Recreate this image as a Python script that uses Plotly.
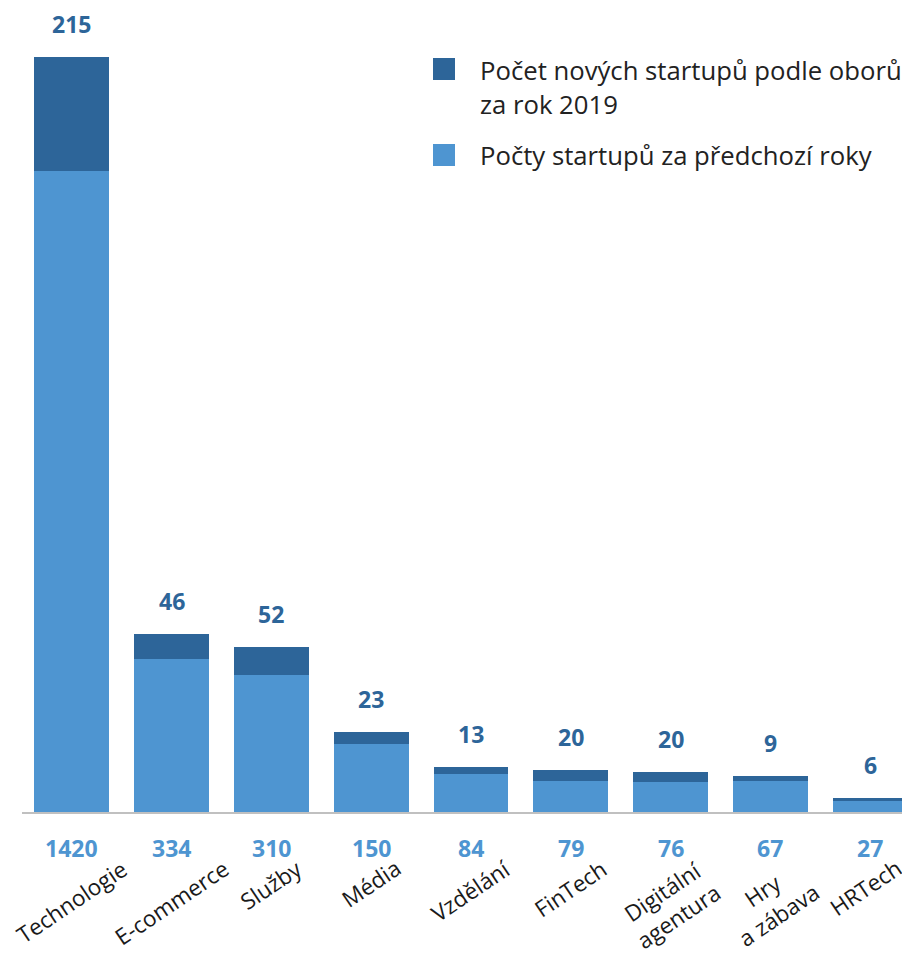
import plotly.graph_objects as go

categories = ["Technologie", "E-commerce", "Služby", "Média", "Vzdělání", "FinTech",
              "Digitální<br>agentura", "Hry<br>a zábava", "HRTech"]
totals = [1420, 334, 310, 150, 84, 79, 76, 67, 27]
new_2019 = [215, 46, 52, 23, 13, 20, 20, 9, 6]
legend_new = "Počet nových startupů podle oborů"
legend_new_2 = "za rok 2019"
legend_prev = "Počty startupů za předchozí roky"

prev_years = [t - n for t, n in zip(totals, new_2019)]

DARK = "#2d6599"
LIGHT = "#4e95d1"
FONT = "Open Sans"

OFF = 8  # page body margin
W, H = 910 - OFF, 957 - OFF
ML, MR, MT, MB = 22 - OFF, 0, 0, 145
PW, PH = W - ML - MR, H - MT - MB

x = list(range(len(categories)))
fig = go.Figure()
fig.add_bar(x=x, y=prev_years, marker_color=LIGHT, width=0.75, name=legend_prev,
            marker_line_width=0)
fig.add_bar(x=x, y=new_2019, marker_color=DARK, width=0.75, name=legend_new,
            marker_line_width=0)

ann = []
for i, (t, n) in enumerate(zip(totals, new_2019)):
    ann.append(dict(x=i, y=t, xref="x", yref="y", text=f"<b>{n}</b>", showarrow=False,
                    yanchor="middle", yshift=33, font=dict(family=FONT, size=23, color=DARK)))
    ann.append(dict(x=i, y=0, xref="x", yref="paper", text=f"<b>{t}</b>", showarrow=False,
                    yanchor="middle", yshift=-36, font=dict(family=FONT, size=23, color=LIGHT)))
    ann.append(dict(x=i, y=0, xref="x", yref="paper", text=categories[i], showarrow=False,
                    xanchor="center", yanchor="top", yshift=-38, textangle=-34,
                    xshift=-4 if i == len(categories) - 1 else 0,
                    font=dict(family=FONT, size=22.5, color="#1a1a1a")))


def px_x(p):
    return (p - OFF - ML) / PW


def px_y(p):
    return (H - MB - (p - OFF)) / PH


legend_font = dict(family=FONT, size=25.7, color="#222222")
for txt, yc in [(legend_new, 70), (legend_new_2, 104), (legend_prev, 155)]:
    ann.append(dict(x=px_x(478), y=px_y(yc), xref="paper", yref="paper", text=txt,
                    showarrow=False, xanchor="left", yanchor="middle", font=legend_font))

shapes = [
    dict(type="rect", xref="paper", yref="paper", x0=px_x(433), x1=px_x(455),
         y0=px_y(80), y1=px_y(58), fillcolor=DARK, line_width=0),
    dict(type="rect", xref="paper", yref="paper", x0=px_x(433), x1=px_x(455),
         y0=px_y(166), y1=px_y(144), fillcolor=LIGHT, line_width=0),
]

fig.update_layout(
    barmode="stack", width=W, height=H,
    margin=dict(l=ML, r=MR, t=MT, b=MB, autoexpand=False),
    plot_bgcolor="white", paper_bgcolor="white",
    showlegend=False, annotations=ann, shapes=shapes,
    font=dict(family=FONT),
)
fig.update_xaxes(range=[-0.5, 8.4], showticklabels=False, showgrid=False, zeroline=False,
                 showline=True, linecolor="#c0c0c0", linewidth=1.5, ticks="")
fig.update_yaxes(range=[0, 1512], visible=False, showgrid=False)

fig.write_html("out.html")
